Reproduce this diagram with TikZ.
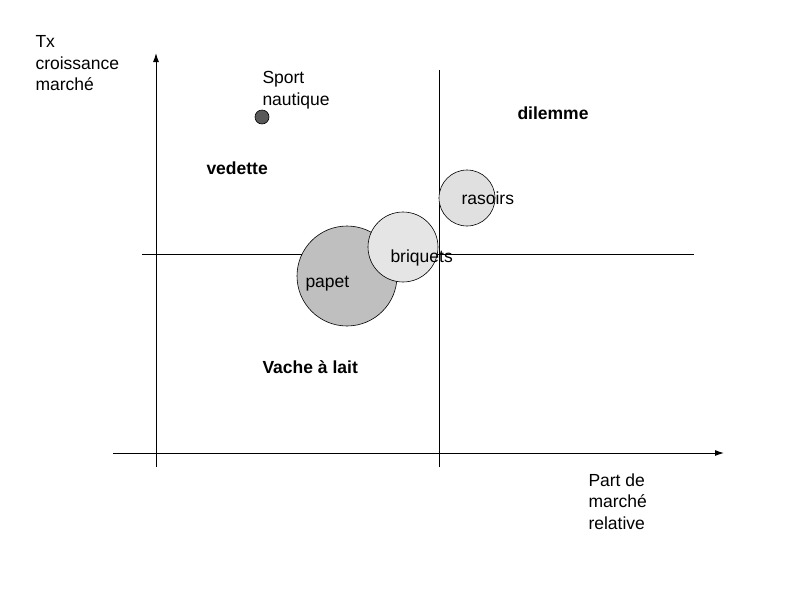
\documentclass[tikz,border=0pt]{standalone}
\usepackage{fontspec}
\setmainfont{Liberation Sans}
\usetikzlibrary{arrows.meta}
\begin{document}
\begin{tikzpicture}[x=1pt,y=-1pt,line width=1pt,
  lbl/.style={anchor=north west,inner sep=0pt,align=left,font=\fontsize{17.5}{21.5}\selectfont},
  bold/.style={lbl,font=\fontsize{17.5}{21.5}\selectfont\bfseries},
  bub/.style={circle,draw=black,inner sep=0pt,line width=0.6pt}]
\useasboundingbox (0,0) rectangle (794,595);
\coordinate (ya) at (156,467); \coordinate (yb) at (156,53);
\coordinate (xa) at (113,453); \coordinate (xb) at (724,453);
\coordinate (va) at (439,467); \coordinate (vb) at (439,70);
\coordinate (ha) at (142,254); \coordinate (hb) at (694,254);
\draw[-{Latex[length=9pt,width=6pt]}] (ya) -- (yb);
\draw[-{Latex[length=9pt,width=6pt]}] (xa) -- (xb);
\draw[line width=0.7pt] (va) -- (vb);
\draw[line width=0.7pt] (ha) -- (hb);
\node[bub,fill=black!65,minimum size=14pt] (sport) at (262,117) {};
\node[bub,fill=black!12,minimum size=56pt] (ras) at (467,198) {};
\node[bub,fill=black!25,minimum size=100pt] (pap) at (347,276) {};
\node[bub,fill=black!10,minimum size=70pt] (bri) at (403,247) {};
\node[lbl] (t1) at (35,35) {Tx\\croissance\\marché};
\node[lbl] (t2) at (262,71) {Sport\\nautique};
\node[bold] (t3) at (517,106) {dilemme};
\node[bold] (t4) at (206,161) {vedette};
\node[lbl] (t5) at (461,191) {rasoirs};
\node[lbl] (t6) at (390,249) {briquets};
\node[lbl] (t7) at (305,276) {papet};
\node[bold] (t8) at (262,360) {Vache à lait};
\node[lbl] (t9) at (588,473) {Part de\\marché\\relative};
\end{tikzpicture}
\end{document}
